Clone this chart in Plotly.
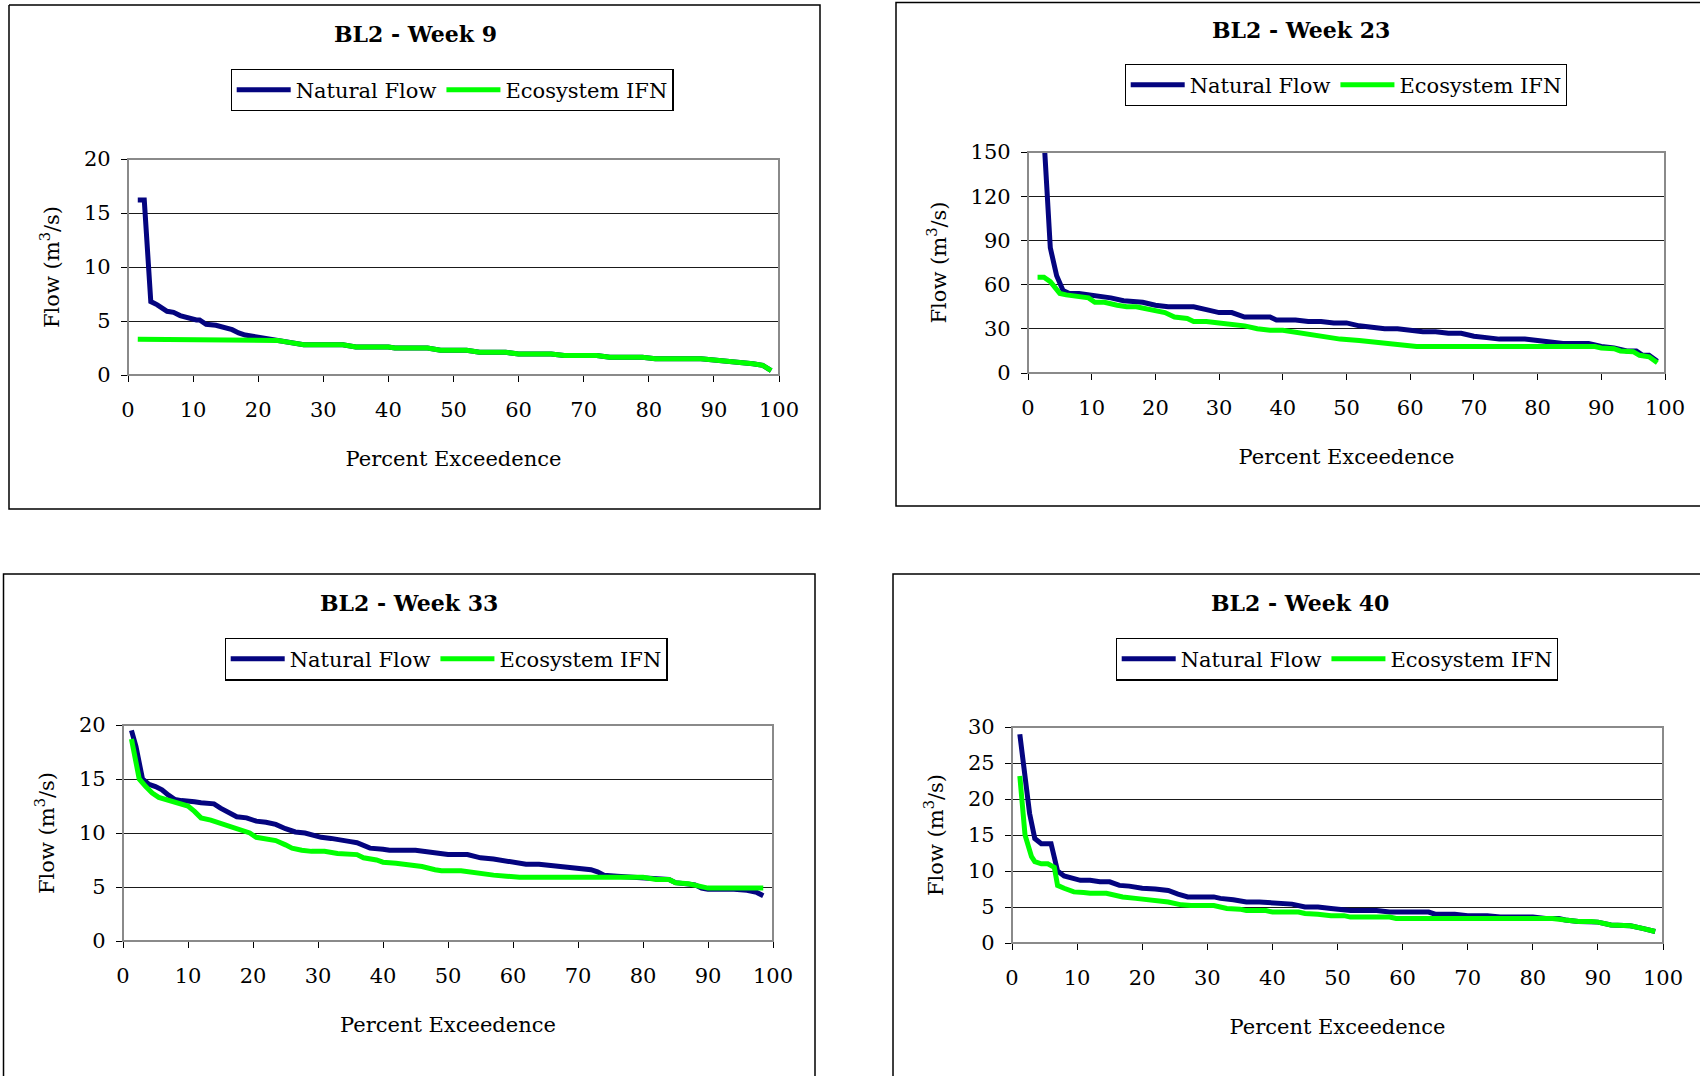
import plotly.graph_objects as go

# ---------------- data ----------------
wk9_nat_x = [1.5, 2.5, 3.5, 4.5, 6, 7, 8, 9.5, 10.5, 11, 12, 13.5, 15, 16, 17, 18, 20, 22,
             23, 25, 27, 33, 35, 40, 41, 46, 48, 52, 54, 58, 60, 65, 67, 72, 74, 79, 81, 88,
             90, 92, 94, 96, 97.5, 98.8]
wk9_nat_y = [16.2, 16.2, 6.8, 6.5, 5.9, 5.8, 5.5, 5.2, 5.1, 5.1, 4.7, 4.6, 4.4, 4.2, 3.9, 3.7, 3.5, 3.3,
             3.2, 3.0, 2.8, 2.8, 2.6, 2.6, 2.5, 2.5, 2.3, 2.3, 2.1, 2.1, 1.95, 1.95, 1.8, 1.8, 1.65, 1.65, 1.5, 1.5,
             1.35, 1.3, 1.15, 1.05, 0.9, 0.4]
wk9_ifn_x = [1.5, 22, 23, 25, 27, 33, 35, 40, 41, 46, 48, 52, 54, 58, 60, 65, 67, 72, 74, 79, 81, 88,
             90, 92, 94, 96, 97.5, 98.8]
wk9_ifn_y = [3.3, 3.3, 3.2, 3.0, 2.8, 2.8, 2.6, 2.6, 2.5, 2.5, 2.3, 2.3, 2.1, 2.1, 1.95, 1.95, 1.8, 1.8,
             1.65, 1.65, 1.5, 1.5, 1.35, 1.3, 1.15, 1.05, 0.9, 0.4]

wk23_nat_x = [1.5, 2.5, 3.5, 4.5, 5.5, 6.5, 8, 10, 12, 13, 15, 17, 18, 20, 22, 24, 26, 28, 30, 32, 34,
              36, 38, 39, 42, 44, 46, 48, 50, 52, 54, 56, 58, 60, 62, 64, 66, 68, 70, 72, 74, 76, 78,
              80, 82, 84, 86, 88, 89, 90, 92, 94, 95.5, 96.5, 97.5, 98.8]
wk23_nat_y = [300, 160, 85, 66, 56, 54, 54, 53, 52, 51, 49, 48, 48, 46, 45, 45, 45, 43, 41, 41, 38,
              38, 38, 36, 36, 35, 35, 34, 34, 32, 31, 30, 30, 29, 28, 28, 27, 27, 25, 24, 23, 23, 23,
              22, 21, 20, 20, 20, 19, 18, 17, 15, 15, 12, 12, 8]
wk23_ifn_x = [1.5, 2.5, 3.5, 4.5, 5, 6, 8, 9.5, 10.5, 12, 14, 15.5, 17, 19, 20, 21.5, 23, 25, 26, 28,
              30, 32, 34, 36, 38, 40, 41.5, 43, 45, 47, 49, 52, 54, 57, 59, 61, 88, 89, 90, 92, 93,
              95, 96, 97.5, 98.8]
wk23_ifn_y = [65, 65, 62, 57, 54, 53, 52, 51, 48, 48, 46, 45, 45, 43, 42, 41, 38, 37, 35, 35,
              34, 33, 32, 30, 29, 29, 28, 27, 26, 24, 23, 22, 21, 20, 19, 18, 18, 18, 17, 16.5, 15,
              14.5, 12, 11, 7]

wk33_nat_x = [1.3, 2, 3, 4, 5, 6, 7, 8, 9, 10, 11, 12, 13, 14, 15, 16, 17.5, 19, 20.5, 22, 23.5, 25,
              26.5, 28, 29.5, 30.5, 32, 33.5, 35, 36, 37, 38, 40, 41, 45, 46, 48, 50, 53, 54, 55, 57,
              58, 59, 61, 62, 64, 66, 68, 70, 72, 73, 74, 76, 78, 80, 82, 84, 85, 87, 88, 89, 90,
              94, 96, 97.5, 98.5]
wk33_nat_y = [19.5, 18, 15, 14.5, 14.3, 14, 13.5, 13.1, 13, 13, 12.9, 12.8, 12.7, 12.7, 12.3, 12,
              11.5, 11.4, 11.1, 11, 10.8, 10.4, 10.1, 10, 9.7, 9.6, 9.5, 9.3, 9.2, 9.1, 8.8, 8.6,
              8.5, 8.4, 8.4, 8.3, 8.1, 8.0, 8.0, 7.8, 7.7, 7.6, 7.5, 7.3, 7.2, 7.1, 7.1, 7.0, 6.9,
              6.7, 6.6, 6.4, 6.1, 6.0, 5.9, 5.8, 5.7, 5.7, 5.4, 5.3, 5.2, 4.9, 4.8, 4.8, 4.7, 4.5, 4.2]
wk33_ifn_x = [1.3, 2.5, 3.5, 4.5, 5.5, 7, 8, 9, 10, 11, 12, 13.5, 15, 16.5, 18, 19.5, 20.5, 22, 23.5,
              25, 26, 27.5, 29, 31, 33, 36, 37, 39, 40, 42, 44, 46, 48, 49, 52, 53, 55, 57, 59, 61,
              80, 82, 84, 85, 87, 89, 90, 98.5]
wk33_ifn_y = [18.7, 15, 14.3, 13.7, 13.3, 13, 12.8, 12.6, 12.5, 12.0, 11.4, 11.2, 10.9, 10.7, 10.3,
              10.0, 9.6, 9.5, 9.3, 8.9, 8.6, 8.4, 8.3, 8.3, 8.1, 8.0, 7.7, 7.5, 7.3, 7.2, 7.1, 6.9,
              6.6, 6.5, 6.5, 6.4, 6.2, 6.1, 6.0, 5.9, 5.9, 5.7, 5.7, 5.4, 5.3, 5.0, 4.9, 4.9]

wk40_nat_x = [1.2, 2, 2.7, 3.5, 4.5, 6, 7, 8, 9.5, 10.5, 12, 13.5, 15, 16.5, 18, 20, 22, 24, 25.5,
              27, 31, 32, 34, 36, 38, 40, 41, 43, 45, 47, 49, 51, 52, 56, 58, 64, 65, 68, 70, 73,
              75, 80, 82, 84, 85, 87, 89, 90, 92, 95, 97, 98.8]
wk40_nat_y = [29, 23, 18, 14.5, 13.8, 13.8, 10, 9.3, 8.9, 8.7, 8.7, 8.5, 8.5, 8.0, 7.9, 7.6, 7.5,
              7.3, 6.8, 6.4, 6.4, 6.2, 6.0, 5.7, 5.7, 5.6, 5.4, 5.4, 5.0, 5.0, 4.8, 4.7, 4.5, 4.5,
              4.3, 4.3, 4.0, 4.0, 3.8, 3.8, 3.6, 3.6, 3.4, 3.4, 3.2, 3.0, 3.0, 2.9, 2.5, 2.4, 2.0, 1.6]
wk40_ifn_x = [1.2, 2, 3, 3.5, 4.5, 5.5, 6.5, 7, 8, 9.5, 11, 12, 14.5, 16, 17, 19, 20.5, 22, 24, 26,
              27.5, 31, 33, 35, 36, 39, 40, 44, 45, 47, 49, 51, 52, 58, 59, 83, 85, 87, 89, 90, 92,
              95, 97, 98.8]
wk40_ifn_y = [23.2, 15, 12, 11.3, 11, 11, 10.5, 8, 7.6, 7.1, 7.0, 6.9, 6.9, 6.5, 6.4, 6.2, 6.1, 5.9,
              5.7, 5.3, 5.2, 5.2, 4.8, 4.7, 4.5, 4.5, 4.3, 4.3, 4.1, 4.0, 3.8, 3.8, 3.6, 3.6, 3.4,
              3.4, 3.2, 3.0, 3.0, 2.9, 2.5, 2.4, 2.0, 1.6]

titles = ["BL2 - Week 9", "BL2 - Week 23", "BL2 - Week 33", "BL2 - Week 40"]
y_ranges = [20, 150, 20, 30]
y_dticks = [5, 30, 5, 5]
x_tickvals = [0, 10, 20, 30, 40, 50, 60, 70, 80, 90, 100]
series_names = ["Natural Flow", "Ecosystem IFN"]

# ---------------- layout helpers ----------------
W, H = 1701, 1077
NAVY = "#04047f"
LIME = "#00ff00"
FONT = "DejaVu Serif"


def px_x(v):
    return v / W


def px_y(v):
    return 1 - v / H


def frame_path(points):
    return "M " + " L ".join(f"{px_x(x):.5f},{px_y(y):.5f}" for x, y in points)


# plot areas in window pixels: (left, top, right, bottom)
areas = [(128, 159, 779, 375), (1028, 152, 1665, 373), (123, 725, 773, 941), (1012, 727, 1663, 943)]
# frame outlines (only the sides that are inside the window)
frames = [
    [(9, 5), (820, 5), (820, 509), (9, 509), (9, 5)],
    [(1700, 2.5), (896, 2.5), (896, 506), (1700, 506)],
    [(3.5, 1076), (3.5, 574), (815, 574), (815, 1076)],
    [(893, 1076), (893, 574), (1700, 574)],
]
title_pos = [(415, 34), (1301, 30), (409, 603), (1300, 603)]
legend_pos = [(452, 90), (1346, 85), (446, 659), (1337, 659)]

data = [
    (wk9_nat_x, wk9_nat_y, wk9_ifn_x, wk9_ifn_y),
    (wk23_nat_x, wk23_nat_y, wk23_ifn_x, wk23_ifn_y),
    (wk33_nat_x, wk33_nat_y, wk33_ifn_x, wk33_ifn_y),
    (wk40_nat_x, wk40_nat_y, wk40_ifn_x, wk40_ifn_y),
]

fig = go.Figure()
layout = dict(
    width=W, height=H, margin=dict(l=0, r=0, t=0, b=0, pad=0),
    paper_bgcolor="white", plot_bgcolor="white",
    font=dict(family=FONT, size=21, color="black"),
    showlegend=True,
)
shapes = []
annotations = []

for i in range(4):
    n = i + 1
    xa = "x" if n == 1 else f"x{n}"
    ya = "y" if n == 1 else f"y{n}"
    leg = "legend" if n == 1 else f"legend{n}"
    nx, ny, ix, iy = data[i]
    fig.add_trace(go.Scatter(x=nx, y=ny, mode="lines", name=series_names[0],
                             line=dict(color=NAVY, width=5), xaxis=xa, yaxis=ya,
                             legend=leg))
    fig.add_trace(go.Scatter(x=ix, y=iy, mode="lines", name=series_names[1],
                             line=dict(color=LIME, width=5), xaxis=xa, yaxis=ya,
                             legend=leg))
    l, t, r, b = areas[i]
    xkey = "xaxis" if n == 1 else f"xaxis{n}"
    ykey = "yaxis" if n == 1 else f"yaxis{n}"
    layout[xkey] = dict(
        domain=[px_x(l), px_x(r)], anchor=ya, range=[0, 100], tickvals=x_tickvals,
        showgrid=False, zeroline=False, showline=True, linecolor="black", linewidth=1.3,
        ticks="outside", ticklen=6, tickcolor="black", ticklabelstandoff=10,
        tickfont=dict(size=21, family=FONT), automargin=False,
        title=dict(text="Percent Exceedence", font=dict(size=21, family=FONT), standoff=29),
    )
    layout[ykey] = dict(
        domain=[px_y(b), px_y(t)], anchor=xa, range=[0, y_ranges[i]], dtick=y_dticks[i],
        showgrid=True, gridcolor="#1a1a1a", gridwidth=1, zeroline=False,
        showline=True, linecolor="black", linewidth=1.3,
        ticks="outside", ticklen=6, tickcolor="black", ticklabelstandoff=6,
        tickfont=dict(size=21, family=FONT), automargin=False,
        title=dict(text="Flow (m<sup>3</sup>/s)", font=dict(size=21, family=FONT), standoff=18),
    )
    # gray plot-area border (top/right)
    shapes.append(dict(type="rect", xref="paper", yref="paper",
                       x0=px_x(l), x1=px_x(r), y0=px_y(b), y1=px_y(t),
                       line=dict(color="#8a8a8a", width=2), layer="above"))
    # chart frame
    shapes.append(dict(type="path", xref="paper", yref="paper", path=frame_path(frames[i]),
                       line=dict(color="black", width=1.5), layer="below"))
    tx, ty = title_pos[i]
    annotations.append(dict(text=f"<b>{titles[i]}</b>", xref="paper", yref="paper",
                            x=px_x(tx), y=px_y(ty), showarrow=False,
                            xanchor="center", yanchor="middle",
                            font=dict(size=22, family=FONT, color="black")))
    lx, ly = legend_pos[i]
    layout[leg] = dict(
        x=px_x(lx), y=px_y(ly), xanchor="center", yanchor="middle",
        orientation="h", bgcolor="white", bordercolor="black", borderwidth=1.2,
        font=dict(size=21, family=FONT), itemwidth=54, tracegroupgap=0,
    )

layout["shapes"] = shapes
layout["annotations"] = annotations
fig.update_layout(**layout)
# black axis lines drawn over the gray border on the left/bottom sides
fig.update_xaxes(layer="above traces")
fig.update_yaxes(layer="above traces")
# remove the default page margin so the figure fills the window exactly
fig.write_html("out.html", config={"displayModeBar": False},
               post_script="document.body.style.margin='0';")
